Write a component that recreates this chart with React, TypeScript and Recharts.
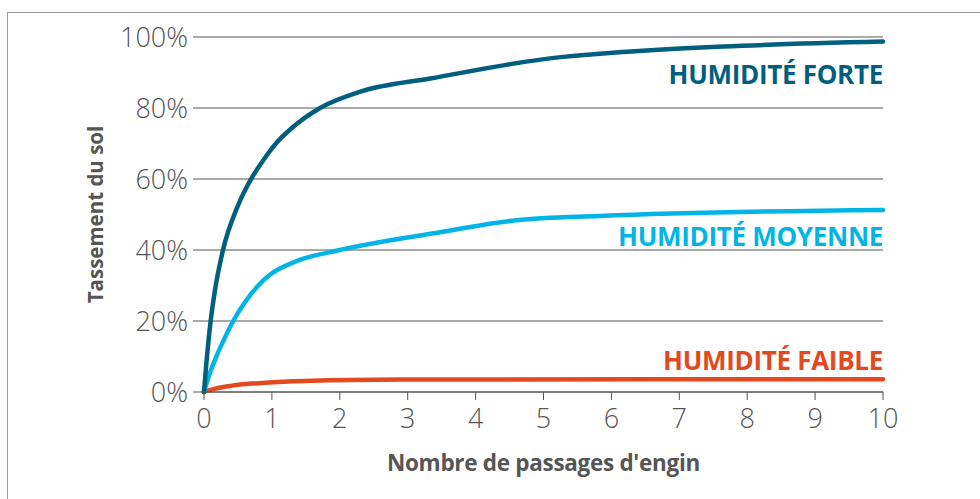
import { LineChart, Line, XAxis, YAxis, CartesianGrid, LabelList } from "recharts";

// each curve at its own x positions
const forteX = [0, 0.03, 0.095, 0.16, 0.28, 0.5, 0.71, 0.87, 1.05, 1.29, 1.71, 2.32, 3.33, 5.29, 10];
const forteY = [0, 7, 19.5, 28.5, 40, 52.5, 60.5, 65.2, 69.8, 74.3, 80, 84.7, 88.3, 94.4, 98.7];
const moyenneX = [0, 0.085, 0.18, 0.29, 0.43, 0.6, 0.8, 0.97, 1.34, 2, 3.38, 4.6, 5.83, 10];
const moyenneY = [0, 5.2, 9.9, 14.6, 20, 25.2, 30, 33, 36.7, 40, 44.7, 48.4, 49.6, 51.3];
const faibleX = [0, 0.15, 0.41, 0.9, 1.48, 2.9, 10];
const faibleY = [0, 0.9, 1.8, 2.6, 3.1, 3.5, 3.6];
const xTicks = [0, 1, 2, 3, 4, 5, 6, 7, 8, 9, 10];
const yTicks = [0, 20, 40, 60, 80, 100];

const toRows = (xs: number[], ys: number[]) => xs.map((x, i) => ({ x, y: ys[i] }));
const forteData = toRows(forteX, forteY);
const moyenneData = toRows(moyenneX, moyenneY);
const faibleData = toRows(faibleX, faibleY);

const FONT = "'Open Sans', 'DejaVu Sans', sans-serif";
const GRID = "#555";
const TEXT = "#555";

// draws the series name only at the last point, offset from the line
function endLabel(name: string, color: string, dy: number, last: number) {
  return (props: any) => {
    if (props.index !== last) return null;
    return (
      <text
        x={props.x}
        y={props.y + dy}
        textAnchor="end"
        fill={color}
        fontFamily={FONT}
        fontWeight={700}
        fontSize={26}
        letterSpacing={-0.3}
      >
        {name}
      </text>
    );
  };
}

export default function App() {
  return (
    <div style={{ position: "relative", width: 980, height: 499 }}>
      <style>{"body{margin:0}"}</style>
      <div
        style={{
          position: "absolute",
          left: 7,
          top: 12,
          right: 0,
          bottom: 0,
          borderTop: "1.5px solid #9a9a9a",
          borderLeft: "1.5px solid #9a9a9a",
        }}
      />
      <LineChart
        width={980}
        height={499}
        margin={{ top: 37, right: 97, bottom: 27, left: 80 }}
      >
        <CartesianGrid vertical={false} stroke={GRID} strokeWidth={1.2} />
        <XAxis
          dataKey="x"
          type="number"
          domain={[0, 10]}
          ticks={xTicks}
          allowDuplicatedCategory={false}
          height={80}
          stroke={GRID}
          tickSize={8}
          tickMargin={9}
          tick={{ fill: TEXT, fontSize: 27, fontFamily: FONT, fontWeight: 300 }}
          label={{
            value: "Nombre de passages d'engin",
            position: "insideBottom",
            offset: 1,
            fill: TEXT,
            fontSize: 22.5,
            fontWeight: 700,
            fontFamily: FONT,
            letterSpacing: -0.3,
          }}
        />
        <YAxis
          dataKey="y"
          type="number"
          domain={[0, 100]}
          ticks={yTicks}
          width={124}
          axisLine={false}
          stroke={GRID}
          tickSize={11}
          tickMargin={5}
          tickFormatter={(v: number) => `${v}%`}
          tick={{ fill: TEXT, fontSize: 27, fontFamily: FONT, fontWeight: 300 }}
          label={{
            value: "Tassement du sol",
            angle: -90,
            position: "insideLeft",
            offset: 16,
            fill: TEXT,
            fontSize: 20.5,
            fontWeight: 700,
            fontFamily: FONT,
            style: { textAnchor: "middle" },
          }}
        />
        <Line
          data={faibleData}
          type="monotone"
          dataKey="y"
          stroke="#e2491f"
          strokeWidth={4.5}
          strokeLinecap="round"
          dot={false}
          isAnimationActive={false}
        >
          <LabelList content={endLabel("HUMIDITÉ FAIBLE", "#e2491f", -9, faibleData.length - 1)} />
        </Line>
        <Line
          data={moyenneData}
          type="monotone"
          dataKey="y"
          stroke="#00b5e6"
          strokeWidth={4.5}
          strokeLinecap="round"
          dot={false}
          isAnimationActive={false}
        >
          <LabelList content={endLabel("HUMIDITÉ MOYENNE", "#00b5e6", 36, moyenneData.length - 1)} />
        </Line>
        <Line
          data={forteData}
          type="monotone"
          dataKey="y"
          stroke="#005f7e"
          strokeWidth={4.5}
          strokeLinecap="round"
          dot={false}
          isAnimationActive={false}
        >
          <LabelList content={endLabel("HUMIDITÉ FORTE", "#005f7e", 42, forteData.length - 1)} />
        </Line>
      </LineChart>
    </div>
  );
}
